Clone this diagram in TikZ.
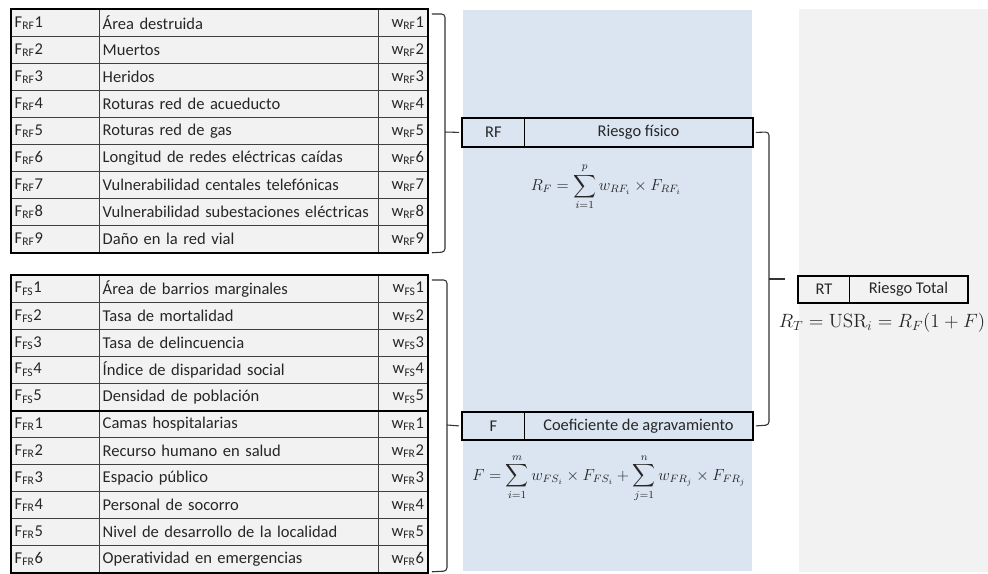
\documentclass[tikz,border=0pt]{standalone}
\usepackage[no-math]{fontspec}
\setmainfont{Carlito}
\usepackage{amsmath}
\usetikzlibrary{calc}
\definecolor{panelblue}{HTML}{DBE5F1}
\definecolor{panelgray}{HTML}{F2F2F2}
\definecolor{cellgray}{HTML}{F2F2F2}
\definecolor{txt}{HTML}{262626}
\begin{document}
\begin{tikzpicture}[x=0.75pt,y=-0.75pt,
  tcell/.style={draw=black!75, line width=0.6pt, fill=cellgray, anchor=north west,
    inner xsep=2.5pt, inner ysep=0pt, minimum height=20.25pt, text=txt,
    font=\fontsize{12.4}{14}\selectfont},
  colA/.style={tcell, text width=61pt, align=left},
  colB/.style={tcell, text width=204.25pt, align=left},
  colC/.style={tcell, text width=31.75pt, align=right},
  bx/.style={draw=black, line width=0.6pt, anchor=north west, inner sep=0pt,
    text=txt, font=\fontsize{12.3}{14}\selectfont},
  outline/.style={line width=1.5pt, draw=black},
  brace/.style={draw=black!80, line width=0.8pt, rounded corners=2.5pt},
  formula/.style={text=black!85, font=\fontsize{12}{14}\selectfont, inner sep=0pt}
]
\useasboundingbox (0,0) rectangle (988,574);
% panels
\fill[panelblue] (463,10) rectangle (752,571);
\fill[panelgray] (799,9) rectangle (988,572);

% top table (RF)
\foreach \i/\t in {1/Área destruida,2/Muertos,3/Heridos,4/Roturas red de acueducto,
  5/Roturas red de gas,6/Longitud de redes eléctricas caídas,
  7/Vulnerabilidad centales telefónicas,8/Vulnerabilidad subestaciones eléctricas,
  9/Daño en la red vial}{
  \node[colA] (rfa\i) at (11,{9+(\i-1)*27}) {F\textsubscript{RF}\i};
  \node[colB] (rfb\i) at (99,{9+(\i-1)*27}) {\t};
  \node[colC] (rfc\i) at (378,{9+(\i-1)*27}) {w\textsubscript{RF}\i};
}
\draw[outline] (rfa1.north west) rectangle (rfc9.south east);

% bottom table (FS + FR)
\foreach \i/\t in {1/Área de barrios marginales,2/Tasa de mortalidad,3/Tasa de delincuencia,
  4/Índice de disparidad social,5/Densidad de población}{
  \node[colA] (fsa\i) at (11,{275+(\i-1)*27}) {F\textsubscript{FS}\i};
  \node[colB] (fsb\i) at (99,{275+(\i-1)*27}) {\t};
  \node[colC] (fsc\i) at (378,{275+(\i-1)*27}) {w\textsubscript{FS}\i};
}
\foreach \i/\t in {1/Camas hospitalarias,2/Recurso humano en salud,3/Espacio público,
  4/Personal de socorro,5/Nivel de desarrollo de la localidad,6/Operatividad en emergencias}{
  \node[colA] (fra\i) at (11,{275+(\i+4)*27}) {F\textsubscript{FR}\i};
  \node[colB] (frb\i) at (99,{275+(\i+4)*27}) {\t};
  \node[colC] (frc\i) at (378,{275+(\i+4)*27}) {w\textsubscript{FR}\i};
}
\draw[outline] (fsa1.north west) rectangle (frc6.south east);
\draw[line width=1.2pt] (fsa5.south west) -- (fsc5.south east);

% RF box
\node[bx, fill=panelblue, minimum width=46.5pt, minimum height=21pt] (rfl) at (462,118) {RF};
\node[bx, fill=panelblue, minimum width=171pt, minimum height=21pt] (rfr) at (524,118) {Riesgo físico};
\draw[outline] (rfl.north west) rectangle (rfr.south east);
\node[formula] (frf) at (606,187) {$\displaystyle R_F=\sum_{i=1}^{p} w_{RF_i}\times F_{RF_i}$};

% F box
\node[bx, fill=panelblue, minimum width=46.5pt, minimum height=20.25pt] (fl) at (462,412) {F};
\node[bx, fill=panelblue, minimum width=171pt, minimum height=20.25pt] (fr) at (524,412) {Coeficiente de agravamiento};
\draw[outline] (fl.north west) rectangle (fr.south east);
\node[formula] (ff) at (609,478) {$\displaystyle F=\sum_{i=1}^{m} w_{FS_i}\times F_{FS_i}+\sum_{j=1}^{n} w_{FR_j}\times F_{FR_j}$};

% RT box
\node[bx, fill=panelgray, minimum width=38.25pt, minimum height=19.5pt] (rtl) at (798,276) {RT};
\node[bx, fill=panelgray, minimum width=88.5pt, minimum height=19.5pt] (rtr) at (849,276) {Riesgo Total};
\draw[outline] (rtl.north west) rectangle (rtr.south east);
\node[formula, font=\fontsize{14}{16}\selectfont] (frt) at (882,323) {$R_T=\mathrm{USR}_i=R_F(1+F)$};

% braces
\draw[brace] ($(rfc1.north east)+(4,5)$) -- (445,14) -- (445,252) -- ($(rfc9.south east)+(4,0)$);
\draw[brace] (445,132) -- ([xshift=-2.25pt]rfl.west);
\draw[brace] ($(fsc1.north east)+(4,5)$) -- (447,280) -- (447,571) -- ($(frc6.south east)+(4,-1)$);
\draw[brace] (447,425) -- ([xshift=-2.25pt]fl.west);
\draw[brace] ([xshift=2.25pt]rfr.east) -- (769,132) -- (769,425) -- ([xshift=2.25pt]fr.east);
\draw[brace] (769,279) -- (785,279);
\end{tikzpicture}
\end{document}
